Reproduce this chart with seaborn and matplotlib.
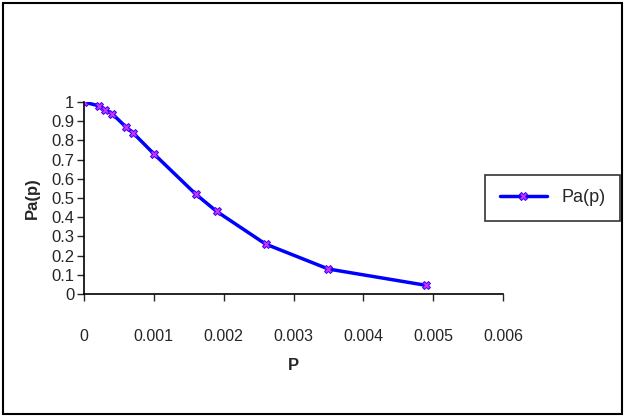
import matplotlib
matplotlib.use("Agg")
import matplotlib.pyplot as plt
import seaborn as sns
import pandas as pd

# 讀出來的數據
p_values = [0, 0.00021, 0.0003, 0.0004, 0.0006, 0.0007, 0.001, 0.0016, 0.0019, 0.0026, 0.0035, 0.0049]
pa_values = [1.0, 0.98, 0.96, 0.94, 0.87, 0.84, 0.73, 0.52, 0.43, 0.26, 0.13, 0.045]
x_ticks = [0, 0.001, 0.002, 0.003, 0.004, 0.005, 0.006]
y_ticks = [0, 0.1, 0.2, 0.3, 0.4, 0.5, 0.6, 0.7, 0.8, 0.9, 1]

df = pd.DataFrame({"P": p_values, "Pa(p)": pa_values})

sns.set_style("white")
plt.rcParams["font.family"] = ["Liberation Sans", "DejaVu Sans"]
plt.rcParams["font.size"] = 11

fig = plt.figure(figsize=(6.25, 4.18), dpi=100)
ax = fig.add_axes([0.1344, 0.2967, 0.6704, 0.4593])

sns.lineplot(data=df, x="P", y="Pa(p)", ax=ax, color="#0000FF", linewidth=2.5,
             marker="X", markersize=6, markerfacecolor="#CC33FF",
             markeredgecolor="#3300FF", markeredgewidth=0.7, label="Pa(p)")

ax.set_xlim(0, 0.006)
ax.set_ylim(0, 1)
ax.set_xticks(x_ticks)
ax.set_xticklabels([str(t) for t in x_ticks])
ax.set_yticks(y_ticks)
ax.set_yticklabels([str(t) for t in y_ticks])
ax.tick_params(axis="x", direction="out", length=5, width=1, pad=20, labelsize=11.5, bottom=True)
ax.tick_params(axis="y", direction="out", length=5, width=1, pad=2, labelsize=12, left=True)

for side in ["top", "right"]:
    ax.spines[side].set_visible(False)
for side in ["left", "bottom"]:
    ax.spines[side].set_color("black")
    ax.spines[side].set_linewidth(1.2)

ax.set_xlabel("P", fontweight="bold", fontsize=12, labelpad=10)
ax.set_ylabel("Pa(p)", fontweight="bold", fontsize=12, labelpad=8)

leg = ax.legend(loc="center left", bbox_to_anchor=(0.958, 0.5), frameon=True,
                fancybox=False, fontsize=13, borderpad=0.8, handlelength=2.6,
                borderaxespad=0)
leg.get_frame().set_edgecolor("black")
leg.get_frame().set_linewidth(1.2)

# 外框
fig.patches.append(plt.Rectangle((0.005, 0.01), 0.99, 0.982, transform=fig.transFigure,
                                 fill=False, edgecolor="black", linewidth=1.5))

fig.savefig("out.png", dpi=100)
